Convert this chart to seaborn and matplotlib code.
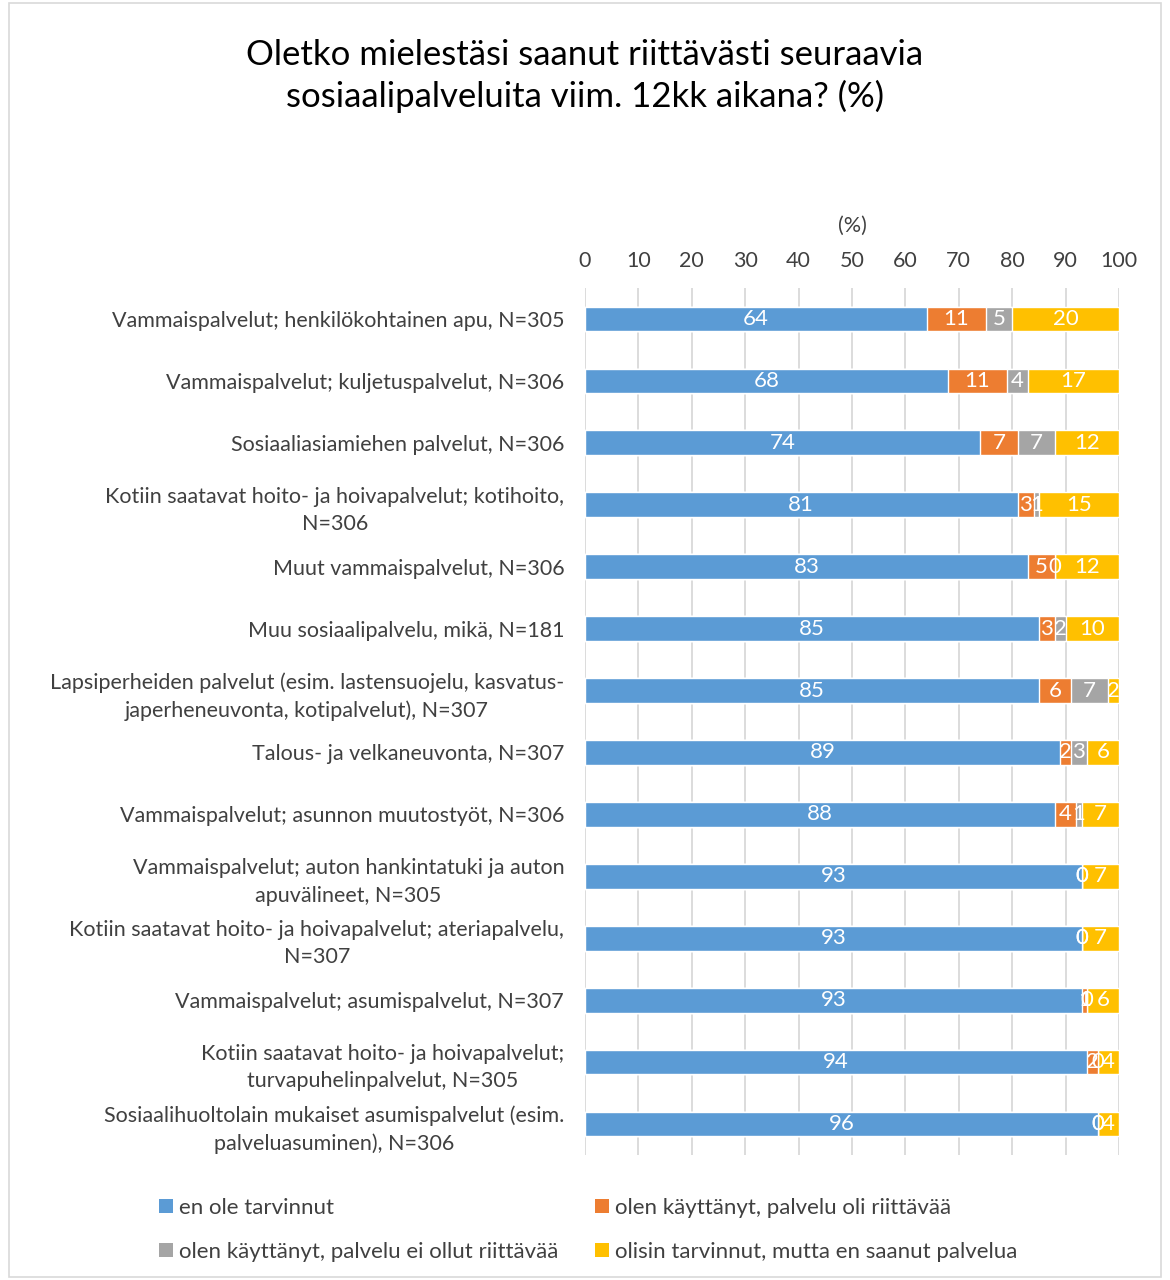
import matplotlib
matplotlib.use("Agg")
import matplotlib.pyplot as plt
import seaborn as sns
import pandas as pd
import numpy as np
from matplotlib.patches import Patch, Rectangle

categories = [
    "Vammaispalvelut; henkilökohtainen apu, N=305",
    "Vammaispalvelut; kuljetuspalvelut, N=306",
    "Sosiaaliasiamiehen palvelut, N=306",
    "Kotiin saatavat hoito- ja hoivapalvelut; kotihoito,\nN=306",
    "Muut vammaispalvelut, N=306",
    "Muu sosiaalipalvelu, mikä, N=181",
    "Lapsiperheiden palvelut (esim. lastensuojelu, kasvatus-\njaperheneuvonta, kotipalvelut), N=307",
    "Talous- ja velkaneuvonta, N=307",
    "Vammaispalvelut; asunnon muutostyöt, N=306",
    "Vammaispalvelut; auton hankintatuki ja auton\napuvälineet, N=305",
    "Kotiin saatavat hoito- ja hoivapalvelut; ateriapalvelu,\nN=307",
    "Vammaispalvelut; asumispalvelut, N=307",
    "Kotiin saatavat hoito- ja hoivapalvelut;\nturvapuhelinpalvelut, N=305",
    "Sosiaalihuoltolain mukaiset asumispalvelut (esim.\npalveluasuminen), N=306",
]
series_names = [
    "en ole tarvinnut",
    "olen käyttänyt, palvelu oli riittävää",
    "olen käyttänyt, palvelu ei ollut riittävää",
    "olisin tarvinnut, mutta en saanut palvelua",
]
s_none = [64, 68, 74, 81, 83, 85, 85, 89, 88, 93, 93, 93, 94, 96]
s_ok = [11, 11, 7, 3, 5, 3, 6, 2, 4, 0, 0, 1, 2, 0]
s_notok = [5, 4, 7, 1, 0, 2, 7, 3, 1, 0, 0, 0, 0, 0]
s_missing = [20, 17, 12, 15, 12, 10, 2, 6, 7, 7, 7, 6, 4, 4]
colors = ["#5B9BD5", "#ED7D31", "#A5A5A5", "#FFC000"]
title = "Oletko mielestäsi saanut riittävästi seuraavia\nsosiaalipalveluita viim. 12kk aikana? (%)"

sns.set_theme(style="white")
plt.rcParams['font.family'] = ['Lato', 'DejaVu Sans']

series = [s_none, s_ok, s_notok, s_missing]
cum = np.cumsum(np.array(series, dtype=float), axis=0)

fig = plt.figure(figsize=(11.7, 12.8), dpi=100)
ax = fig.add_axes([585/1170, 1 - 1155/1280, (1119-585)/1170, (1155-288)/1280])

# Draw cumulative bars from largest to smallest so they form a stack
for i in range(3, -1, -1):
    df = pd.DataFrame({"cat": categories, "val": cum[i]})
    sns.barplot(data=df, x="val", y="cat", orient="h", color=colors[i],
                saturation=1, width=0.4, ax=ax, zorder=2)

# value labels
for i in range(4):
    left = cum[i] - np.array(series[i])
    for j, v in enumerate(series[i]):
        ax.text(left[j] + v / 2, j, f"{v}", ha="center", va="center",
                color="white", fontsize=16, zorder=5)

ax.set_xlim(0, 100)
ax.set_xticks(range(0, 101, 10))
ax.xaxis.tick_top()
ax.xaxis.set_label_position("top")
ax.set_xlabel("(%)", fontsize=15.5, labelpad=14, color="#404040")
ax.set_ylabel("")
ax.tick_params(axis="x", labelsize=15.5, colors="#404040", length=0, pad=12)
ax.tick_params(axis="y", labelsize=15.5, colors="#404040", length=0, pad=15)
for lbl in ax.get_yticklabels():
    lbl.set_multialignment("center")
    lbl.set_linespacing(1.45)
ax.grid(axis="x", color="#D9D9D9", linewidth=1.3, zorder=0)
ax.set_axisbelow(True)
for s in ax.spines.values():
    s.set_visible(False)
ax.set_ylim(len(categories) - 0.5, -0.5)

fig.text(0.5, 1 - 76/1280, title, ha="center", va="center", fontsize=25,
         color="#000000", linespacing=1.3)

order = [0, 2, 1, 3]
handles = [Patch(facecolor=colors[k], edgecolor="none") for k in order]
labels = [series_names[k] for k in order]
fig.legend(handles, labels, loc="center", bbox_to_anchor=(0.503, 1 - 1230/1280),
           ncol=2, frameon=False, fontsize=16, handlelength=0.6, handleheight=0.6,
           handletextpad=0.3, columnspacing=1.65, labelspacing=1.1,
           labelcolor="#404040")

fig.patches.append(Rectangle((0.008, 0.002), 0.984, 0.996, transform=fig.transFigure,
                             fill=False, edgecolor="#D9D9D9", linewidth=1.2))

fig.savefig("out.png", dpi=100, facecolor="white")
